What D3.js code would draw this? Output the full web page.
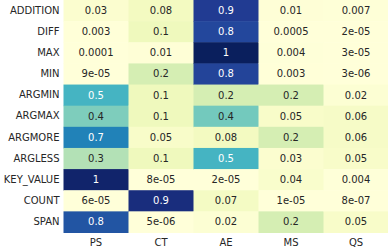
<!DOCTYPE html>
<html>
<head>
<meta charset="utf-8">
<script src="https://cdn.jsdelivr.net/npm/d3@7"></script>
<style>
  body { margin: 0; background: #fff; }
  text { font-family: "DejaVu Sans", sans-serif; }
</style>
</head>
<body>
<svg id="chart" width="388" height="249"></svg>
<script>
// rows / columns of the heatmap
const rows = ["ADDITION", "DIFF", "MAX", "MIN", "ARGMIN", "ARGMAX", "ARGMORE", "ARGLESS", "KEY_VALUE", "COUNT", "SPAN"];
const cols = ["PS", "CT", "AE", "MS", "QS"];

// one array per column
const PS = [0.03, 0.003, 0.0001, 9e-5, 0.5, 0.38, 0.66, 0.28, 0.96, 6e-5, 0.78];
const CT = [0.08, 0.1, 0.01, 0.2, 0.1, 0.1, 0.05, 0.1, 8e-5, 0.92, 5e-6];
const AE = [0.86, 0.82, 0.99, 0.83, 0.2, 0.4, 0.08, 0.5, 2e-5, 0.07, 0.02];
const MS = [0.01, 0.0005, 0.004, 0.003, 0.2, 0.05, 0.2, 0.03, 0.04, 1e-5, 0.2];
const QS = [0.007, 2e-5, 3e-5, 3e-6, 0.02, 0.06, 0.06, 0.05, 0.004, 8e-7, 0.05];

const columns = {PS, CT, AE, MS, QS};

const svg = d3.select("#chart");
const margin = {left: 63.5, top: 0};
const W = 325;
const H = 232.5;

const x = d3.scaleBand().domain(cols).range([0, W]);
const y = d3.scaleBand().domain(rows).range([0, H]);
const color = d3.scaleSequential(d3.interpolateYlGnBu).domain([0, 1]);

// python-like "%.1g"
function fmt(v) {
    if (v === 0) return "0";
    const s = v.toExponential(0);
    const [m, e] = s.split("e");
    const ex = +e;
    if (ex < -4 || ex >= 1) {
        const sign = ex < 0 ? "-" : "+";
        return m + "e" + sign + String(Math.abs(ex)).padStart(2, "0");
    }
    return String(Number(v.toPrecision(1)));
}

function textColor(c) {
    const rgb = d3.rgb(c);
    const lin = [rgb.r, rgb.g, rgb.b].map(v => {
        v /= 255;
        return v <= 0.03928 ? v / 12.92 : Math.pow((v + 0.055) / 1.055, 2.4);
    });
    const lum = 0.2126 * lin[0] + 0.7152 * lin[1] + 0.0722 * lin[2];
    return lum > 0.408 ? "#262626" : "#ffffff";
}

const cells = [];
cols.forEach(c => {
    columns[c].forEach((v, i) => cells.push({row: rows[i], col: c, value: v}));
});

const g = svg.append("g").attr("transform", `translate(${margin.left},${margin.top})`);

g.selectAll("rect")
    .data(cells)
    .enter().append("rect")
    .attr("x", d => x(d.col))
    .attr("y", d => y(d.row))
    .attr("width", x.bandwidth() + 0.5)
    .attr("height", y.bandwidth() + 0.5)
    .attr("fill", d => color(d.value));

g.selectAll("text.val")
    .data(cells)
    .enter().append("text")
    .attr("class", "val")
    .attr("x", d => x(d.col) + x.bandwidth() / 2)
    .attr("y", d => y(d.row) + y.bandwidth() / 2)
    .attr("dy", "0.35em")
    .attr("text-anchor", "middle")
    .style("font-size", "10px")
    .attr("fill", d => textColor(color(d.value)))
    .text(d => fmt(d.value));

// axes
const xAxis = g.append("g")
    .attr("transform", `translate(0,${H})`)
    .call(d3.axisBottom(x).tickSize(0).tickPadding(6));
const yAxis = g.append("g")
    .call(d3.axisLeft(y).tickSize(0).tickPadding(4));
[xAxis, yAxis].forEach(a => {
    a.select(".domain").remove();
    a.selectAll("text")
        .style("font-family", "DejaVu Sans, sans-serif")
        .style("font-size", "10px")
        .attr("fill", "#262626");
});
</script>
</body>
</html>
